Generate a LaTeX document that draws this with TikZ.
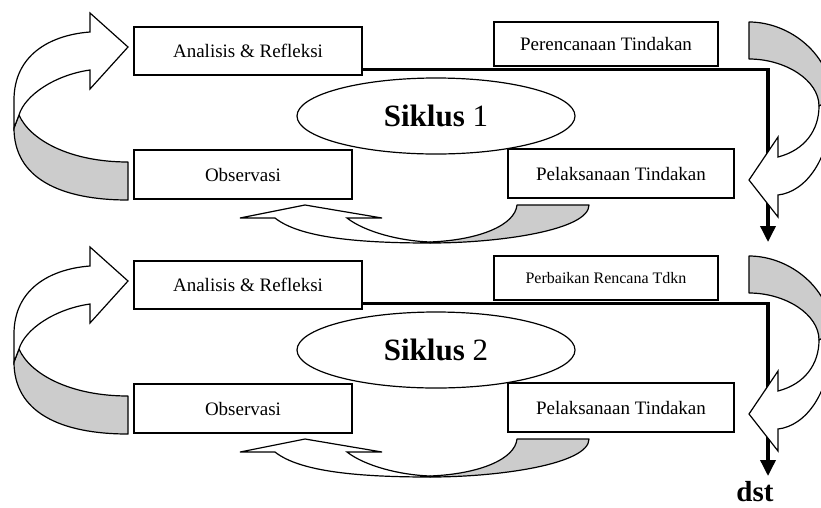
\documentclass[tikz,border=0pt]{standalone}
\usepackage{fontspec}
\setmainfont{Liberation Serif}
\usetikzlibrary{arrows.meta,shapes.geometric}
\definecolor{bandgray}{gray}{0.8}

\begin{document}
\begin{tikzpicture}[
    x=1pt, y=-1pt,
    font=\fontsize{19}{23}\selectfont,
    box/.style={draw, fill=white, line width=1.2pt, inner sep=0pt, align=center},
    cyclelabel/.style={draw, ellipse, line width=1.2pt, minimum width=278pt, minimum height=76pt, font=\fontsize{31}{36}\selectfont},
    flow/.style={line width=3.5pt, -{Triangle[length=16pt,width=15pt]}},
    back/.style={draw, fill=bandgray, line width=1.2pt, line join=round},
    front/.style={draw, fill=white, line width=1.2pt}
  ]
  \useasboundingbox (0,0) rectangle (821,507);

  % siklus 1
  \node[box, minimum width=228pt, minimum height=48pt] (ana1) at (248,51) {Analisis \& Refleksi};
  \node[box, minimum width=224pt, minimum height=44pt] (ren1) at (606,44) {Perencanaan Tindakan};
  \node[box, minimum width=218pt, minimum height=49pt] (obs1) at (243,174.5) {Observasi};
  \node[box, minimum width=226pt, minimum height=49pt] (pel1) at (621,173.5) {Pelaksanaan Tindakan};
  \node[cyclelabel] (sik1) at (436,116) {\textbf{Siklus} 1};
  \coordinate (end1) at (768,242);
  \draw[flow] ([yshift=6pt]ana1.south east) -| (end1);
  % panah lengkung
  \path[back] (128,162) .. controls (70,162) and (30,140) .. (19,115) -- (14,128) .. controls (14,178) and (60,200) .. (128,200) -- cycle;
  \path[front] (14,128) -- (14,100) .. controls (14,55) and (50,35) .. (90,32) -- (90,13) -- (128,47) -- (90,89) -- (90,70) .. controls (55,75) and (25,95) .. (19,115) -- cycle;
  \path[back] (749,22) .. controls (790,22) and (832,55) .. (832,100) -- (819,106) .. controls (819,80) and (785,59) .. (749,59) -- cycle;
  \path[front] (832,100) .. controls (832,160) and (805,192) .. (778,195) -- (778,217) -- (749,180) -- (778,137) -- (778,157) .. controls (805,150) and (819,130) .. (819,106) -- cycle;
  \path[back] (430,242) .. controls (480,240) and (515,225) .. (517,205) -- (589,205) .. controls (589,230) and (500,243) .. (430,243) -- cycle;
  \path[front] (430,243) .. controls (360,243) and (300,238) .. (275,218) -- (240,218) -- (305,205) -- (382,218) -- (347,218) .. controls (365,232) and (400,241) .. (430,242) -- cycle;

  % siklus 2
  \begin{scope}[shift={(0,234)}]
  \node[box, minimum width=228pt, minimum height=48pt] (ana2) at (248,51) {Analisis \& Refleksi};
  \node[box, minimum width=224pt, minimum height=44pt, font=\fontsize{16}{19}\selectfont] (ren2) at (606,44) {Perbaikan Rencana Tdkn};
  \node[box, minimum width=218pt, minimum height=49pt] (obs2) at (243,174.5) {Observasi};
  \node[box, minimum width=226pt, minimum height=49pt] (pel2) at (621,173.5) {Pelaksanaan Tindakan};
  \node[cyclelabel] (sik2) at (436,116) {\textbf{Siklus} 2};
  \coordinate (end2) at (768,242);
  \draw[flow] ([yshift=6pt]ana2.south east) -| (end2);
  \path[back] (128,162) .. controls (70,162) and (30,140) .. (19,115) -- (14,128) .. controls (14,178) and (60,200) .. (128,200) -- cycle;
  \path[front] (14,128) -- (14,100) .. controls (14,55) and (50,35) .. (90,32) -- (90,13) -- (128,47) -- (90,89) -- (90,70) .. controls (55,75) and (25,95) .. (19,115) -- cycle;
  \path[back] (749,22) .. controls (790,22) and (832,55) .. (832,100) -- (819,106) .. controls (819,80) and (785,59) .. (749,59) -- cycle;
  \path[front] (832,100) .. controls (832,160) and (805,192) .. (778,195) -- (778,217) -- (749,180) -- (778,137) -- (778,157) .. controls (805,150) and (819,130) .. (819,106) -- cycle;
  \path[back] (430,242) .. controls (480,240) and (515,225) .. (517,205) -- (589,205) .. controls (589,230) and (500,243) .. (430,243) -- cycle;
  \path[front] (430,243) .. controls (360,243) and (300,238) .. (275,218) -- (240,218) -- (305,205) -- (382,218) -- (347,218) .. controls (365,232) and (400,241) .. (430,242) -- cycle;
  \end{scope}

  \node[font=\fontsize{29}{33}\selectfont\bfseries] (dst) at (755,492) {dst};
\end{tikzpicture}
\end{document}
